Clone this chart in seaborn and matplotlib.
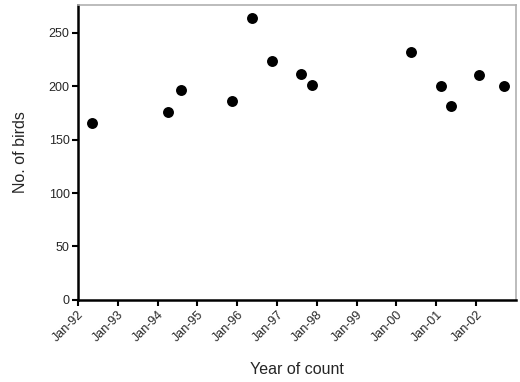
import pandas as pd
import matplotlib
matplotlib.use("Agg")
import matplotlib.pyplot as plt
import matplotlib.dates as mdates
import seaborn as sns

# survey dates and counts
count_dates = ["1992-05-08", "1994-04-05", "1994-08-05", "1995-11-15", "1996-05-15",
               "1996-11-15", "1997-08-10", "1997-11-15", "2000-05-15", "2001-02-15",
               "2001-05-20", "2002-01-25", "2002-09-15"]
bird_counts = [166, 176, 196, 186, 264, 224, 211, 201, 232, 200, 181, 210, 200]
tick_years = list(range(1992, 2003))

df = pd.DataFrame({"date": pd.to_datetime(count_dates), "birds": bird_counts})

sns.set_style("white")
plt.rcParams["font.family"] = ["Liberation Sans", "DejaVu Sans"]

fig = plt.figure(figsize=(5.2, 3.82), dpi=100)
ax = fig.add_axes([0.15, 0.215, 0.842, 0.772])

sns.scatterplot(data=df, x="date", y="birds", ax=ax, color="black",
                s=62, edgecolor="black", linewidth=0, zorder=3)

ax.set_xlim(pd.Timestamp("1992-01-01"), pd.Timestamp("2003-01-01"))
ax.set_ylim(0, 276)
ax.set_yticks([0, 50, 100, 150, 200, 250])
ax.set_xticks([pd.Timestamp(f"{y}-01-01") for y in tick_years])
ax.xaxis.set_major_formatter(mdates.DateFormatter("%b-%y"))
plt.setp(ax.get_xticklabels(), rotation=45, ha="right", rotation_mode="anchor")

ax.tick_params(axis="both", direction="out", length=4, width=1.5, color="black",
               labelsize=9, pad=2, bottom=True, left=True)
for side in ["left", "bottom"]:
    ax.spines[side].set_color("black")
    ax.spines[side].set_linewidth(1.8)
for side in ["top", "right"]:
    ax.spines[side].set_color("#b0b0b0")
    ax.spines[side].set_linewidth(1.2)

ax.set_xlabel("Year of count", fontsize=11.5, labelpad=13)
ax.set_ylabel("No. of birds", fontsize=11.5, labelpad=15)

fig.savefig("out.png", dpi=100)
